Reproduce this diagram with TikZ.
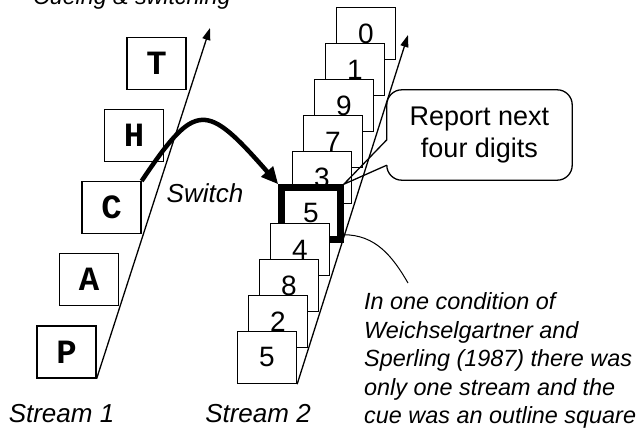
\documentclass[tikz,border=0pt]{standalone}
\usepackage{fontspec}
\setmainfont{Liberation Sans}
\newfontfamily\letterfont{Liberation Mono}
\usetikzlibrary{arrows.meta}

\begin{document}
\begin{tikzpicture}[x=1pt, y=-1pt,
  letterbox/.style={draw, line width=1.3pt, fill=white, minimum width=59pt, minimum height=52pt, inner sep=0pt,
    font=\letterfont\bfseries\fontsize{34}{34}\selectfont},
  digitbox/.style={draw, line width=1.3pt, fill=white, minimum width=59pt, minimum height=52pt, inner sep=0pt,
    font=\fontsize{28}{28}\selectfont},
  cuebox/.style={digitbox, line width=6.5pt},
  streamline/.style={line width=1.3pt, -{Triangle[length=12pt, width=8pt]}},
  switcharrow/.style={line width=4.5pt, -{Triangle[length=17pt, width=15pt]}},
  streamtext/.style={inner sep=0pt, font=\fontsize{26}{31}\selectfont\itshape},
  notetext/.style={inner sep=0pt, align=left, font=\fontsize{23.4}{28.5}\selectfont\itshape},
  calltext/.style={inner sep=0pt, minimum width=185pt, minimum height=90pt, align=center,
    font=\fontsize{27}{32}\selectfont}]
\useasboundingbox (0,0) rectangle (638,428);

% title, cut off at the top
\node[streamtext, font=\fontsize{23.2}{28}\selectfont\itshape, anchor=base west] (title) at (33,5) {Cueing \& switching};

% stream 1: letters
\foreach \ch [count=\i from 0] in {P,A,C,H,T}
  \node[letterbox] (s1-\i) at ({66.5+22.5*\i},{352-72.2*\i}) {\ch};
\coordinate (s1end) at (210,28);
\draw[streamline] (s1-0.south east) -- (s1end);

% stream 2: digits, lower boxes lie on top
\foreach \d/\i in {0/9, 1/8, 9/7, 7/6, 3/5}
  \node[digitbox] (s2-\i) at ({267+11*\i},{357.5-36*\i}) {\d};
\node[cuebox] (cue) at (311,213.5) {5};
\foreach \d/\i in {4/3, 8/2, 2/1, 5/0}
  \node[digitbox] (s2-\i) at ({267+11*\i},{357.5-36*\i}) {\d};
\coordinate (s2end) at (408,35);
\draw[streamline] (s2-0.south east) -- (s2end);

% switch from C to the cued 5
\draw[switcharrow] (s1-2.north east) .. controls (196,100) and (206,102) .. (cue.north west);
\node[streamtext] (switch) at (205,193) {Switch};

% callout
\node[calltext] (report) at (479.5,135) {Report next\\four digits};
\draw[line width=1.3pt, rounded corners=15pt] ([yshift=-50pt]report.north west) -- (report.north west)
  -- (report.north east) -- (report.south east) -- (report.south west) -- ([yshift=15pt]report.south west);
\draw[line width=1.3pt] ([yshift=-50pt]report.north west) -- (cue.north east) -- ([yshift=15pt]report.south west);

% note
\coordinate (noteend) at (408,283);
\draw[line width=1pt] ([yshift=8pt]cue.south east) to[out=0, in=120] (noteend);
\node[notetext, anchor=north west] (note) at (364,292.5) {In one condition of\\Weichselgartner and\\Sperling (1987) there was\\only one stream and the\\cue was an outline square};

\node[streamtext] (s1label) at (61.5,414) {Stream 1};
\node[streamtext] (s2label) at (258,414) {Stream 2};
\end{tikzpicture}
\end{document}
